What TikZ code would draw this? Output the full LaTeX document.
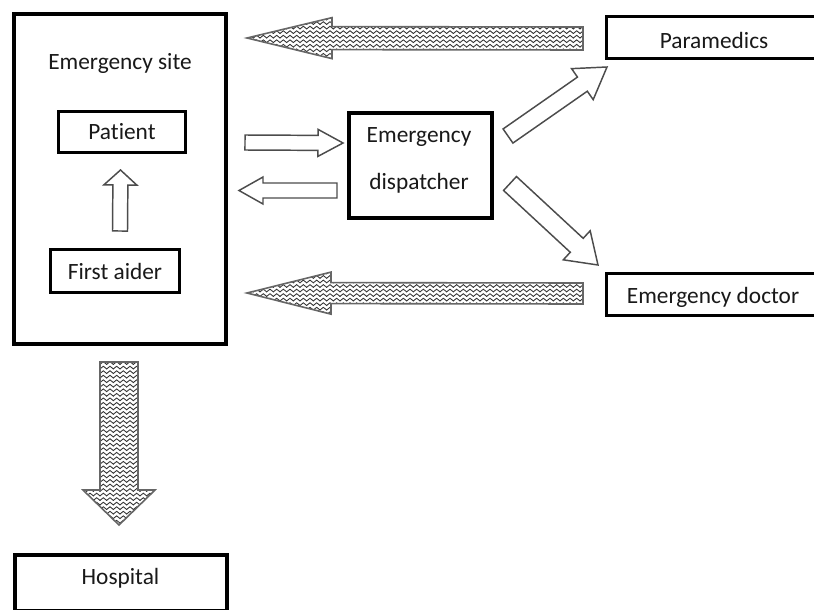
\documentclass[tikz,border=0pt]{standalone}
\usepackage{fontspec}
\setmainfont{Carlito}[Ligatures=NoCommon]
\usetikzlibrary{calc,patterns}
\pgfdeclarepatternformonly{zigzag}{\pgfqpoint{-1pt}{-1pt}}{\pgfqpoint{6pt}{5pt}}{\pgfqpoint{5pt}{3.4pt}}{%
  \pgfsetlinewidth{0.65pt}%
  \pgfpathmoveto{\pgfqpoint{-0.2pt}{0.45pt}}%
  \pgfpathlineto{\pgfqpoint{2.5pt}{2.6pt}}%
  \pgfpathlineto{\pgfqpoint{5.2pt}{0.45pt}}%
  \pgfusepath{stroke}}
% #1 style, #2 tail coordinate, #3 tip coordinate, #4 shaft half width, #5 head half width, #6 head length (px)
\newcommand\blockarr[6]{%
  \coordinate (h-#2) at ($(#3)!#6*0.75pt!(#2)$);
  \draw[#1] ($(#2)!#4*0.75pt!90:(#3)$) -- ($(h-#2)!#4*0.75pt!90:(#3)$)
    -- ($(h-#2)!#5*0.75pt!90:(#3)$) -- (#3)
    -- ($(h-#2)!#5*0.75pt!-90:(#3)$) -- ($(h-#2)!#4*0.75pt!-90:(#3)$)
    -- ($(#2)!#4*0.75pt!-90:(#3)$) -- cycle;}
\tikzset{
  txt/.style={font=\fontsize{17.5}{21}\selectfont, text=black!90, inner sep=0pt},
  bx/.style={draw=black, line width=2.4pt, inner sep=0pt, txt},
  bigbx/.style={bx, line width=3pt},
  hollow/.style={draw=black!70, line width=1.1pt, fill=white, line join=miter},
  zz/.style={draw=black!60, line width=1.2pt, pattern=zigzag, pattern color=black!80, line join=miter},
}
\begin{document}
\begin{tikzpicture}[x=0.75pt, y=-0.75pt]
\fill[white] (0,0) rectangle (814,610);
\clip (0,0) rectangle (814,610);

% boxes
\node[bigbx, minimum width=159pt, minimum height=247.5pt] (site) at (120,179) {};
\node[txt] (sitelabel) at (120,63) {Emergency site};
\node[bx, minimum width=95.25pt, minimum height=30.75pt] (patient) at (122,132) {Patient};
\node[bx, minimum width=96.75pt, minimum height=32.25pt] (aider) at (115,271) {First aider};
\node[bigbx, minimum width=159pt, minimum height=42pt] (hospital) at (120.5,583) {};
\node[txt] (hosplabel) at (120.5,578) {Hospital};
\node[bigbx, minimum width=107.25pt, minimum height=78pt] (disp) at (420,165.5) {};
\node[txt, align=center, font=\fontsize{17.5}{35}\selectfont] (displabel) at (419,160.5) {Emergency\\dispatcher};
\node[bx, minimum width=161.25pt, minimum height=31.5pt] (para) at (714,37.5) {};
\node[txt] (paralabel) at (714,40) {Paramedics};
\node[bx, minimum width=161.25pt, minimum height=31.5pt] (doc) at (714,294.5) {};
\node[txt] (doclabel) at (713,297) {Emergency doctor};

% arrow end points
\coordinate (a1s) at (583,38.5);  \coordinate (a1t) at (247,38);
\coordinate (a2s) at (583,293.5); \coordinate (a2t) at (247,293);
\coordinate (a3s) at (119,362);   \coordinate (a3t) at (119,525);
\coordinate (a4s) at (245,142.5); \coordinate (a4t) at (343,143);
\coordinate (a5s) at (337,190.5); \coordinate (a5t) at (239,190.5);
\coordinate (a6s) at (120,231);   \coordinate (a6t) at (120.5,170);
\coordinate (a7s) at (508,136);   \coordinate (a7t) at (607,67);
\coordinate (a8s) at (510,183.5); \coordinate (a8t) at (598,265);

% patterned block arrows
\blockarr{zz}{a1s}{a1t}{11.5}{20.5}{85}
\blockarr{zz}{a2s}{a2t}{10.5}{21}{84}
\blockarr{zz}{a3s}{a3t}{19}{36}{35}

% hollow block arrows
\blockarr{hollow}{a4s}{a4t}{7.5}{13.5}{25}
\blockarr{hollow}{a5s}{a5t}{7.5}{13.5}{24}
\blockarr{hollow}{a6s}{a6t}{7.5}{16.5}{15}
\blockarr{hollow}{a7s}{a7t}{8.6}{18.9}{30}
\blockarr{hollow}{a8s}{a8t}{9.5}{19.8}{29}
\end{tikzpicture}
\end{document}
